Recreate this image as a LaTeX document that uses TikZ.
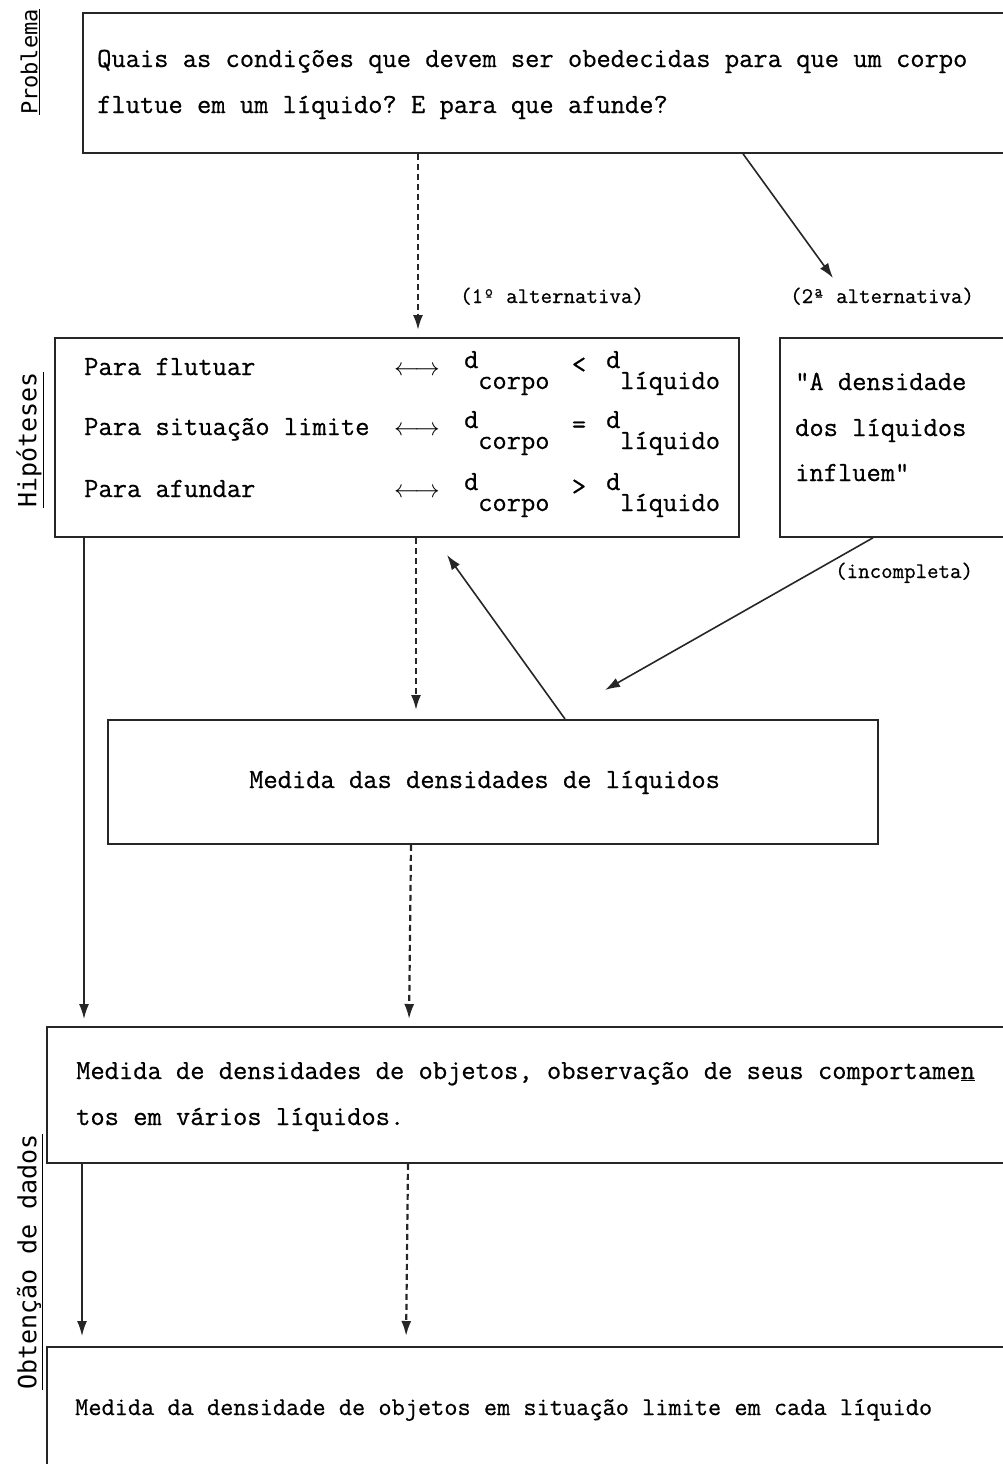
\documentclass[tikz,border=0pt]{standalone}
\usepackage{fontspec}
\setmonofont{Latin Modern Mono}[BoldFont={Latin Modern Mono}, BoldFeatures={FakeBold=0.6}]
\newfontfamily\sidefont{DejaVu Sans Mono}
\usetikzlibrary{arrows.meta}
\tikzset{
  box/.style={draw, line width=1.8pt, rectangle, anchor=north west, inner sep=0pt, color=black!85},
  tt/.style={font=\ttfamily\bfseries\fontsize{27.7}{27.7}\selectfont, anchor=base west, inner sep=0pt},
  ttc/.style={font=\ttfamily\bfseries\fontsize{27.7}{27.7}\selectfont, anchor=base, inner sep=0pt},
  ttm/.style={font=\fontsize{27}{27}\selectfont, anchor=base, inner sep=0pt},
  lbl/.style={font=\ttfamily\bfseries\fontsize{22.3}{22.3}\selectfont, anchor=base west, inner sep=0pt},
  limtxt/.style={font=\ttfamily\bfseries\fontsize{25.6}{25.6}\selectfont, anchor=base west, inner sep=0pt},
  side/.style={rotate=90, inner sep=0pt, anchor=center},
  arr/.style={-{Latex[length=15pt,width=10pt]}, line width=1.6pt, color=black!85},
  dasharr/.style={-{Latex[length=15pt,width=10pt]}, line width=2.2pt, dash pattern=on 6pt off 4pt, color=black!85},
}
\begin{document}
\begin{tikzpicture}[x=1pt,y=-1pt]
\useasboundingbox (0,0) rectangle (1002,1464);
% boxes
\node[box, minimum width=930pt, minimum height=140pt] (prob) at (82,12) {};
\node[box, minimum width=684pt, minimum height=199pt] (hyp) at (54,337) {};
\node[box, minimum width=232pt, minimum height=199pt] (alt) at (779,337) {};
\node[box, minimum width=770pt, minimum height=124pt] (mid) at (107,719) {};
\node[box, minimum width=966pt, minimum height=136pt] (obs) at (46,1026) {};
\node[box, minimum width=966pt, minimum height=150pt] (lim) at (46,1346) {};
% side labels
\node[side, font=\sidefont\fontsize{22}{22}\selectfont] (sprob) at (30,62) {\underline{Problema}};
\node[side, font=\sidefont\fontsize{25}{25}\selectfont] (shyp) at (30,440) {\underline{Hipóteses}};
\node[side, font=\sidefont\fontsize{25}{25}\selectfont] (sobt) at (30,1262) {\underline{Obtenção de dados}};
% problem text
\node[tt] (p1) at (97,67) {Quais as condições que devem ser obedecidas para que um corpo};
\node[tt] (p2) at (97,113) {flutue em um líquido? E para que afunde?};
% hypotheses
\node[tt] (h1) at (84,375) {Para flutuar};
\node[tt] (h2) at (84,435) {Para situação limite};
\node[tt] (h3) at (84,497) {Para afundar};
\node[ttm] (e1) at (417,375) {$\longleftrightarrow$};
\node[ttm] (e2) at (417,435) {$\longleftrightarrow$};
\node[ttm] (e3) at (417,497) {$\longleftrightarrow$};
\node[tt] (da1) at (464,368) {d};
\node[tt] (ca1) at (478,389) {corpo};
\node[ttc] (r1) at (579,373) {<};
\node[tt] (db1) at (606,368) {d};
\node[tt] (lb1) at (620,389) {líquido};
\node[tt] (da2) at (464,428) {d};
\node[tt] (ca2) at (478,449) {corpo};
\node[ttc] (r2) at (579,433) {=};
\node[tt] (db2) at (606,428) {d};
\node[tt] (lb2) at (620,449) {líquido};
\node[tt] (da3) at (464,490) {d};
\node[tt] (ca3) at (478,511) {corpo};
\node[ttc] (r3) at (579,495) {>};
\node[tt] (db3) at (606,490) {d};
\node[tt] (lb3) at (620,511) {líquido};
% second alternative
\node[tt] (a1) at (795,390) {"A densidade};
\node[tt] (a2) at (795,436) {dos líquidos};
\node[tt] (a3) at (795,481) {influem"};
% labels
\node[lbl] (l1) at (460,303) {(1º alternativa)};
\node[lbl] (l2) at (790,303) {(2ª alternativa)};
\node[lbl] (l3) at (835,578) {(incompleta)};
% middle
\node[tt] (mtxt) at (249,788) {Medida das densidades de líquidos};
% obs
\node[tt] (o1) at (76,1079) {Medida de densidades de objetos, observação de seus comportame\underline{n}};
\node[tt] (o2) at (76,1125) {tos em vários líquidos.};
% lim
\node[limtxt] (m1) at (75,1415) {Medida da densidade de objetos em situação limite em cada líquido};
% connectors
\coordinate (t2) at (833,278);
\coordinate (t4) at (605,690);
\coordinate (t5) at (447,555);
\draw[dasharr, shorten >=7pt] ([xshift=336pt]prob.south west) -- ([xshift=364pt]hyp.north west);
\draw[arr] ([xshift=661pt]prob.south west) -- (t2);
\draw[dasharr, shorten >=9pt] ([xshift=362pt]hyp.south west) -- ([xshift=309pt]mid.north west);
\draw[arr] ([xshift=94pt]alt.south west) -- (t4);
\draw[arr] ([xshift=458pt]mid.north west) -- (t5);
\draw[arr, shorten >=7pt] ([xshift=30pt]hyp.south west) -- ([xshift=38pt]obs.north west);
\draw[dasharr, shorten >=7pt] ([xshift=304pt]mid.south west) -- ([xshift=363pt]obs.north west);
\draw[arr, shorten >=10pt] ([xshift=36pt]obs.south west) -- ([xshift=36pt]lim.north west);
\draw[dasharr, shorten >=10pt] ([xshift=362pt]obs.south west) -- ([xshift=360pt]lim.north west);
\end{tikzpicture}
\end{document}
